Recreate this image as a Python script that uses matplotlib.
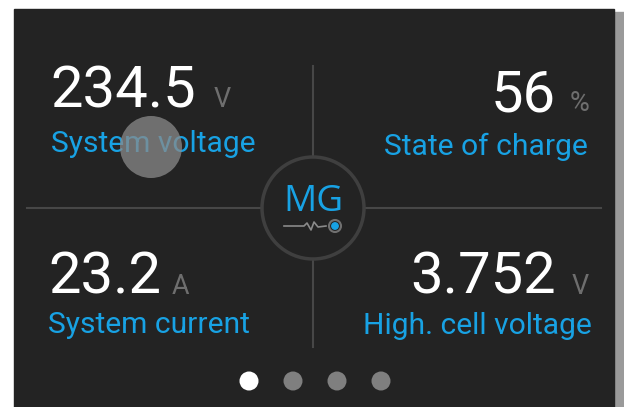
import matplotlib.pyplot as plt
from matplotlib.patches import Circle, Rectangle

# tile contents (top-left, top-right, bottom-left, bottom-right)
values = ["234.5", "56", "23.2", "3.752"]
units = ["V", "%", "A", "V"]
labels = ["System voltage", "State of charge", "System current", "High. cell voltage"]
page_count = 4
active_page = 0

W, H = 624, 407
BG = "#232323"
BLUE = "#18a2e4"
LINE = "#474747"
PT = 72 / 100  # px -> pt at dpi 100

fig = plt.figure(figsize=(W / 100, H / 100), dpi=100)
fig.patch.set_facecolor("white")
ax = fig.add_axes([0, 0, 1, 1])
ax.set_xlim(0, W)
ax.set_ylim(H, 0)
ax.axis("off")

# panel + right shadow
ax.add_patch(Rectangle((614, 12), 10, H, color="#9a9a9a", zorder=0))
ax.add_patch(Rectangle((14, 9), 600, H, color=BG, zorder=1))

cx, cy, r = 313, 208, 51
# cross lines, broken around the circle
ax.plot([cx, cx], [66, cy - r], color=LINE, lw=1.5, zorder=2)
ax.plot([cx, cx], [cy + r, 347], color=LINE, lw=1.5, zorder=2)
ax.plot([27, cx - r], [cy, cy], color=LINE, lw=1.5, zorder=2)
ax.plot([cx + r, 601], [cy, cy], color=LINE, lw=1.5, zorder=2)
ax.add_patch(Circle((cx, cy), r, fill=False, ec="#3f3f3f", lw=2.5, zorder=2))

# logo
ax.text(cx, 211, "MG", color=BLUE, fontsize=37 * PT, family="Open Sans",
        ha="center", va="baseline", zorder=3)
ax.plot([284, 304, 307, 311, 314, 318, 326], [226, 226, 223, 230, 222, 227, 226],
        color="#8a8a8a", lw=1.2, zorder=3)
ax.add_patch(Circle((335, 226), 6, fc=BG, ec="#707070", lw=1.5, zorder=3))
ax.add_patch(Circle((335, 226), 3.2, color=BLUE, zorder=4))

# tiles: value anchor x, value baseline, unit x, label x, label baseline, align
tiles = [
    (50, 107, 214, 51, 152, "left"),
    (556, 111, 570, 588, 155, "right"),
    (48, 294, 172, 48, 333, "left"),
    (556, 294, 572, 592, 334, "right"),
]
for i, (vx, vy, ux, lx, ly, ha) in enumerate(tiles):
    ax.text(vx, vy, values[i], color="white", fontsize=58 * PT, family="Roboto",
            ha=ha, va="baseline", zorder=3)
    ax.text(ux, vy, units[i], color="#6e6e6e", fontsize=27 * PT, family="Roboto",
            ha="left", va="baseline", zorder=3)
    ax.text(lx, ly, labels[i], color=BLUE, fontsize=30 * PT, family="Roboto",
            ha=ha, va="baseline", zorder=3)

# touch indicator
ax.add_patch(Circle((151, 147), 31, color="#8a8a8a", alpha=0.75, zorder=5, lw=0))

# page dots
for k in range(page_count):
    col = "white" if k == active_page else "#7f7f7f"
    ax.add_patch(Circle((249 + 44 * k, 381), 9.5, color=col, zorder=3, lw=0))

fig.savefig("out.png", dpi=100, facecolor=fig.get_facecolor())
